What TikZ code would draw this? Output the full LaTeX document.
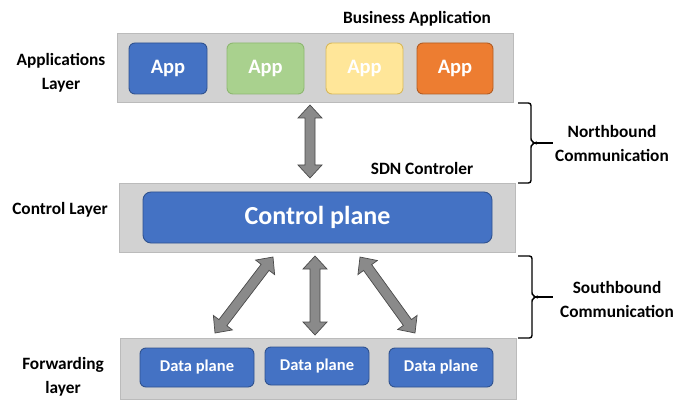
\documentclass[tikz,border=0pt]{standalone}
\usepackage{fontspec}
\setmainfont{Carlito}
\usetikzlibrary{calc}
\definecolor{layerfill}{HTML}{D2D2D2}
\definecolor{layerdraw}{HTML}{BBBBBB}
\definecolor{cblue}{HTML}{4472C4}
\definecolor{cbluedk}{HTML}{2F528F}
\definecolor{cgreen}{HTML}{A9D18E}
\definecolor{cgreendk}{HTML}{8DB870}
\definecolor{cyellow}{HTML}{FFE699}
\definecolor{cyellowdk}{HTML}{D9B95A}
\definecolor{corange}{HTML}{ED7D31}
\definecolor{corangedk}{HTML}{B25C22}
\definecolor{arrfill}{HTML}{8A8A8A}
\definecolor{arrdraw}{HTML}{4A4A4A}
\tikzset{
  layerbox/.style={draw=layerdraw, fill=layerfill, line width=0.8pt},
  appbox/.style={rounded corners=6pt, line width=0.9pt, text=white, font=\bfseries\fontsize{20.5}{22}\selectfont, inner sep=0pt},
  dpbox/.style={draw=cbluedk, fill=cblue, rounded corners=6pt, line width=0.9pt, text=white, font=\bfseries\fontsize{16.5}{18}\selectfont, inner sep=0pt},
  lbl/.style={font=\bfseries\fontsize{17.3}{24}\selectfont, align=center, inner sep=0pt},
  barrow/.style={draw=arrdraw, fill=arrfill, line width=0.7pt, line join=miter},
  bracepath/.style={draw=black, line width=1.4pt, rounded corners=2.5pt}
}
\newcommand\blockarr[2]{%
  \path[barrow] let \p1=($(#2)-(#1)$), \n1={atan2(\y1,\x1)}, \n2={veclen(\x1,\y1)} in
    [shift={(#1)}, rotate=\n1]
    (0,0) -- (13,12) -- (13,5) -- (\n2-13,5) -- (\n2-13,12) -- (\n2,0)
    -- (\n2-13,-12) -- (\n2-13,-5) -- (13,-5) -- (13,-12) -- cycle;}
\begin{document}
\begin{tikzpicture}[x=1pt,y=-1pt]
\useasboundingbox (0,0) rectangle (675,401);
% layers
\node[layerbox, minimum width=396pt, minimum height=69pt, inner sep=0pt] (applayer) at (315,67.5) {};
\node[layerbox, minimum width=396pt, minimum height=69pt, inner sep=0pt] (ctrllayer) at (317,217.5) {};
\node[layerbox, minimum width=396pt, minimum height=61pt, inner sep=0pt] (fwdlayer) at (318,368.5) {};
% apps
\node[appbox, draw=cbluedk, fill=cblue, minimum width=78pt, minimum height=51pt] (app1) at (168,68.5) {App};
\node[appbox, draw=cgreendk, fill=cgreen, minimum width=77pt, minimum height=51pt] (app2) at (265.5,68.5) {App};
\node[appbox, draw=cyellowdk, fill=cyellow, minimum width=77pt, minimum height=51pt] (app3) at (364.5,68.5) {App};
\node[appbox, draw=corangedk, fill=corange, minimum width=76pt, minimum height=51pt] (app4) at (455,68.5) {App};
% control plane
\node[draw=cbluedk, fill=cblue, rounded corners=8pt, line width=0.9pt, text=white, font=\bfseries\fontsize{26}{28}\selectfont, minimum width=349pt, minimum height=51pt, inner sep=0pt] (cplane) at (317.5,217.5) {Control plane};
% data planes
\node[dpbox, minimum width=114pt, minimum height=39pt] (dp1) at (197,367.5) {Data plane};
\node[dpbox, minimum width=104pt, minimum height=38pt] (dp2) at (317,366) {Data plane};
\node[dpbox, minimum width=104pt, minimum height=39pt] (dp3) at (441,367.5) {Data plane};
% labels
\node[lbl] (bizapp) at (417,19) {Business Application};
\node[lbl] (sdnctl) at (422,168) {SDN Controler};
\node[lbl] (applbl) at (61,73) {Applications\\Layer};
\node[lbl] (ctrllbl) at (60,210) {Control Layer};
\node[lbl] (fwdlbl) at (63,377) {Forwarding\\layer};
\node[lbl] (northlbl) at (612,143) {Northbound\\Communication};
\node[lbl] (southlbl) at (617,299.5) {Southbound\\Communication};
% arrow end points
\coordinate (a1) at (310,105);
\coordinate (a2) at (310,178);
\coordinate (b1) at (215,333);
\coordinate (b2) at (273,257);
\coordinate (c1) at (315,335);
\coordinate (c2) at (315,256);
\coordinate (d1) at (415,333);
\coordinate (d2) at (360,257);
\blockarr{a1}{a2}
\blockarr{b1}{b2}
\blockarr{c1}{c2}
\blockarr{d1}{d2}
% braces
\coordinate (n1) at (518,103);
\coordinate (n2) at (518,183);
\coordinate (ntip) at (553,143);
\draw[bracepath] (n1) -- (531,103) -- (531,141) -- (535,143) -- (531,145) -- (531,183) -- (n2);
\draw[line width=1.4pt] (533,143) -- (ntip);
\coordinate (s1) at (518,256);
\coordinate (s2) at (518,338);
\coordinate (stip) at (553,297);
\draw[bracepath] (s1) -- (532,256) -- (532,295) -- (536,297) -- (532,299) -- (532,338) -- (s2);
\draw[line width=1.4pt] (534,297) -- (stip);
\end{tikzpicture}
\end{document}
